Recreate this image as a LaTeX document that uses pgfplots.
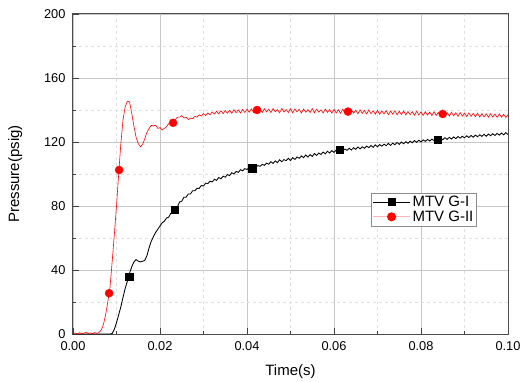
\documentclass[border=0pt]{standalone}
\usepackage{fontspec}
\setmainfont{Liberation Sans}
\usepackage{pgfplots}
\usepackage{pgfplotstable}
\pgfplotsset{compat=1.18}

% Pressure traces: time (s), MTV G-I (psig), MTV G-II (psig)
\pgfplotstableread{
t      g1     g2
0.0000 0      0.3
0.0005 0      0.6
0.0010 0      0.1
0.0015 0      0.8
0.0020 0      0.2
0.0025 0      0.5
0.0030 0      1.0
0.0035 0      0.3
0.0040 0      0.7
0.0045 0      0.2
0.0050 0      0.9
0.0055 0      0.4
0.0060 0      1.0
0.0065 0      2.5
0.0070 0      6
0.0075 0      12
0.0080 0      20
0.0085 0      29
0.0090 0.3    45
0.0095 3      62
0.0100 7      80
0.0105 12     100
0.0110 17     119
0.0115 23     134
0.0120 28.5   142
0.0125 33     145.5
0.0130 38     145
0.0135 42     138
0.0140 45     130
0.0145 46.5   123
0.0150 45.5   119
0.0155 45     117
0.0160 45.5   118.5
0.0165 46     122
0.0170 49     126
0.0175 54     128.5
0.0180 58     130.5
0.0185 61     130
0.0190 63.5   130.5
0.0195 65.5   128.5
0.0200 67.5   129
0.0205 69.5   127.5
0.0210 70.5   128.5
0.0215 72.5   129.5
0.0220 73     131.5
0.0225 75.5   131.5
0.0230 76.5   133
0.0235 78.5   134
0.0240 79.5   135.5
0.0245 82.5   135.5
0.0250 83     136.5
0.0255 85.5   135
0.0260 85.5   135.5
0.0265 87.5   134
0.0270 87.5   135
0.0275 89.5   134.5
0.0280 89.5   136
0.0285 91     135.5
0.0290 91     137
0.0295 92.8   136.2
0.0300 92.5   137.8
0.0305 94.3   136.5
0.0310 94     138.2
0.0315 95.5   137
0.0320 95     138.8
0.0325 96.7   137.4
0.0330 96     139.2
0.0335 97.8   137.6
0.0340 97     139.5
0.0345 98.6   137.7
0.0350 98     139.6
0.0355 99.7   138
0.0360 99     139.8
0.0365 100.8  137.9
0.0370 100    140.2
0.0375 101.6  138.3
0.0380 101    140.1
0.0385 102.7  138.1
0.0390 102    140.4
0.0395 103.4  138.4
0.0400 102.8  140.5
0.0405 104    138.6
0.0410 103.2  140.7
0.0415 104.6  138.5
0.0420 104    140.9
0.0425 105.3  138.7
0.0430 104.8  140.6
0.0435 106    138.5
0.0440 105.4  140.8
0.0445 106.8  138.8
0.0450 106.1  140.5
0.0455 107.7  138.4
0.0460 106.6  140.9
0.0465 108.2  138.9
0.0470 107.1  140.2
0.0475 108.9  138.3
0.0480 107.6  141.0
0.0485 109.0  138.7
0.0490 108.3  140.3
0.0495 109.8  138.5
0.0500 108.4  140.8
0.0505 110.2  138.2
0.0510 109.1  140.6
0.0515 110.6  138.9
0.0520 109.8  140.4
0.0525 111.3  138.1
0.0530 110.2  140.7
0.0535 111.9  138.6
0.0540 110.6  140.2
0.0545 112.1  138.4
0.0550 111.0  140.9
0.0555 112.8  138.3
0.0560 111.6  140.5
0.0565 113.1  138.7
0.0570 112.2  140.1
0.0575 113.7  138.2
0.0580 112.6  140.6
0.0585 114.2  138.5
0.0590 113.1  140.3
0.0595 114.6  138.0
0.0600 113.5  140.4
0.0605 115.0  138.1
0.0610 113.9  140.2
0.0615 115.3  137.9
0.0620 114.3  140.5
0.0625 115.6  138.2
0.0630 114.8  140.0
0.0635 116.1  137.8
0.0640 115.0  140.3
0.0645 116.4  138.0
0.0650 115.4  139.9
0.0655 116.9  137.6
0.0660 115.7  140.1
0.0665 117.0  137.9
0.0670 116.1  139.7
0.0675 117.4  137.5
0.0680 116.5  140.0
0.0685 117.8  137.7
0.0690 116.7  139.5
0.0695 118.2  137.4
0.0700 117.0  139.8
0.0705 118.4  137.3
0.0710 117.4  139.4
0.0715 118.6  137.6
0.0720 117.7  139.6
0.0725 119.1  137.1
0.0730 117.9  139.3
0.0735 119.3  137.4
0.0740 118.3  139.5
0.0745 119.7  137.0
0.0750 118.5  139.2
0.0755 120.0  137.2
0.0760 118.9  139.4
0.0765 120.2  136.9
0.0770 119.2  139.1
0.0775 120.5  137.1
0.0780 119.5  139.0
0.0785 120.9  136.7
0.0790 119.8  139.2
0.0795 121.1  136.9
0.0800 120.0  138.8
0.0805 121.3  136.6
0.0810 120.4  139.0
0.0815 121.6  136.8
0.0820 120.6  138.7
0.0825 121.8  136.5
0.0830 120.9  138.9
0.0835 122.2  136.6
0.0840 121.1  138.5
0.0845 122.4  136.3
0.0850 121.4  138.7
0.0855 122.7  136.5
0.0860 121.6  138.4
0.0865 122.9  136.2
0.0870 121.9  138.6
0.0875 123.2  136.4
0.0880 122.1  138.3
0.0885 123.4  136.0
0.0890 122.4  138.4
0.0895 123.6  136.2
0.0900 122.6  138.1
0.0905 123.9  135.9
0.0910 122.8  138.2
0.0915 124.1  136.0
0.0920 123.0  137.9
0.0925 124.3  135.8
0.0930 123.3  138.0
0.0935 124.5  135.6
0.0940 123.5  137.8
0.0945 124.8  135.7
0.0950 123.6  137.6
0.0955 125.0  135.5
0.0960 123.9  137.7
0.0965 125.2  135.6
0.0970 124.1  137.5
0.0975 125.4  135.4
0.0980 124.3  137.6
0.0985 125.6  135.5
0.0990 124.5  137.3
0.0995 125.8  135.3
0.1000 124.7  137.2
}\traces

% Symbols placed along each trace
\pgfplotstableread{
t      p
0.0129 36
0.0234 77.5
0.0412 103.6
0.0614 115
0.0839 121.6
}\marksA
\pgfplotstableread{
t      p
0.0083 25.5
0.0106 102.5
0.0230 132
0.0423 140
0.0632 139
0.0850 137.5
}\marksB

\begin{document}
\begin{tikzpicture}
\path[use as bounding box] (-73pt,-48pt) rectangle (448pt,334pt);
\begin{axis}[
  at={(0,0)}, anchor=south west,
  scale only axis,
  width=435pt, height=320pt,
  xmin=0, xmax=0.1, ymin=0, ymax=200,
  xtick={0,0.02,0.04,0.06,0.08,0.1},
  ytick={0,40,80,120,160,200},
  minor x tick num=1, minor y tick num=1,
  scaled x ticks=false,
  xticklabel style={/pgf/number format/.cd, fixed, fixed zerofill, precision=2},
  /pgf/number format/assume math mode=true,
  tick label style={font=\fontsize{12.8}{14}\selectfont},
  xticklabel shift=4pt, yticklabel shift=4pt,
  label style={font=\fontsize{15}{17}\selectfont},
  xlabel={Time(s)}, ylabel={Pressure(psig)},
  xlabel style={at={(axis description cs:0.5,-0.119)}, anchor=center},
  ylabel style={at={(axis description cs:-0.133,0.5)}, anchor=center},
  tick align=inside, xtick pos=left, ytick pos=left,
  major tick length=6pt, minor tick length=3pt,
  every tick/.style={black!75, line width=0.8pt},
  axis line style={black!70, line width=1pt},
  grid=both,
  major grid style={black!22, line width=0.6pt},
  minor grid style={black!12, dashed, line width=0.5pt},
  legend style={at={(0.928,0.442)}, anchor=north east,
    draw=black!45, line width=0.6pt, inner sep=1pt,
    font=\fontsize{15}{17}\selectfont, row sep=-1pt,
    cells={anchor=west}},
  legend image code/.code={
    \draw[mark repeat=2, mark phase=2]
      plot coordinates {(0cm,0cm) (0.65cm,0cm) (1.3cm,0cm)};},
]
% traces
\addplot[black, line width=0.85pt, forget plot] table[x=t, y=g1] {\traces};
\addplot[red, line width=0.6pt, forget plot] table[x=t, y=g2] {\traces};
% symbols
\addplot[only marks, mark=square*, mark size=3.6pt, black, forget plot] table[x=t, y=p] {\marksA};
\addplot[only marks, mark=*, mark size=4pt, red, forget plot] table[x=t, y=p] {\marksB};
% legend entries
\addlegendimage{black, line width=0.6pt, mark=square*, mark size=3.6pt}
\addlegendentry{MTV G-I}
\addlegendimage{red!30, line width=1pt, mark=*, mark size=4pt, mark options={red}}
\addlegendentry{MTV G-II}
\end{axis}
\end{tikzpicture}
\end{document}
